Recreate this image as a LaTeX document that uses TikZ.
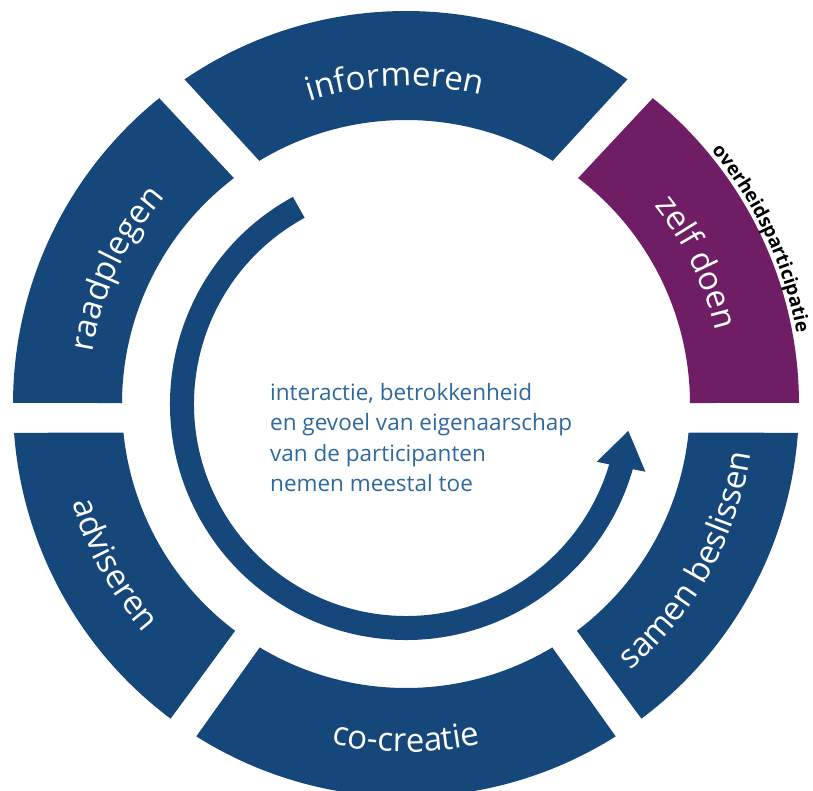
\documentclass[tikz,border=0pt]{standalone}
\usepackage{fontspec}
\setmainfont{Open Sans}
\usetikzlibrary{decorations.text,arrows.meta,bending}
\definecolor{ringblue}{RGB}{22,71,123}
\definecolor{ringpurple}{RGB}{111,30,101}
\definecolor{midblue}{RGB}{46,104,158}
\newcommand\labelfont{\fontsize{33}{33}\selectfont}
\newcommand\smallfont{\fontsize{19}{19}\selectfont\bfseries}
\tikzset{
	ringlabel/.style = {decorate, decoration = {text along path, text align = center, text color = white, text = {|\labelfont|#1}}},
	sidelabel/.style = {decorate, decoration = {text along path, text align = center, text color = black, text = {|\smallfont|#1}}}
}
\begin{document}
\begin{tikzpicture}[x = 1pt, y = 1pt]
	\useasboundingbox (-406,-387) rectangle (407,404);
	% ring segments
	\fill[ringblue] (55.7:393) arc[start angle = 55.7, end angle = 124.3, radius = 393] -- (121.1:284) arc[start angle = 121.1, end angle = 58.9, radius = 284] -- cycle;
	\fill[ringblue] (128.9:393) arc[start angle = 128.9, end angle = 179.85, radius = 393] -- (179.8:284) arc[start angle = 179.8, end angle = 127.3, radius = 284] -- cycle;
	\fill[ringblue] (184.2:393) arc[start angle = 184.2, end angle = 233.2, radius = 393] -- (233:284) arc[start angle = 233, end angle = 185.8, radius = 284] -- cycle;
	\fill[ringblue] (237.75:393) arc[start angle = 237.75, end angle = 302.25, radius = 393] -- (301:284) arc[start angle = 301, end angle = 239, radius = 284] -- cycle;
	\fill[ringblue] (306.8:393) arc[start angle = 306.8, end angle = 355.8, radius = 393] -- (354.2:284) arc[start angle = 354.2, end angle = 307, radius = 284] -- cycle;
	\fill[ringpurple] (0.15:393) arc[start angle = 0.15, end angle = 51.1, radius = 393] -- (52.7:284) arc[start angle = 52.7, end angle = 0.2, radius = 284] -- cycle;
	% labels
	\path[ringlabel = informeren] (132:318) arc[start angle = 132, end angle = 52, radius = 318];
	\path[ringlabel = raadplegen] (185:318) arc[start angle = 185, end angle = 125, radius = 318];
	\path[ringlabel = zelf doen] (56:318) arc[start angle = 56, end angle = -4, radius = 318];
	\path[ringlabel = adviseren] (178.8:348) arc[start angle = 178.8, end angle = 238.8, radius = 348];
	\path[ringlabel = co-creatie] (240:348) arc[start angle = 240, end angle = 300, radius = 348];
	\path[ringlabel = samen beslissen] (296:348) arc[start angle = 296, end angle = 366, radius = 348];
	\path[sidelabel = overheidsparticipatie] (60:397) arc[start angle = 60, end angle = -10, radius = 397];
	% arrow
	\draw[ringblue, line width = 24, -{Triangle[length = 37pt, width = 47pt]}] (118.6:224) arc[start angle = 118.6, end angle = 353.2, radius = 224];
	\node[anchor = base west, align = left, inner sep = 0, text = midblue, font = \fontsize{22.5}{30.6}\selectfont] (centre) at (-136,-88) {interactie, betrokkenheid\\en gevoel van eigenaarschap\\van de participanten\\nemen meestal toe};
\end{tikzpicture}
\end{document}
